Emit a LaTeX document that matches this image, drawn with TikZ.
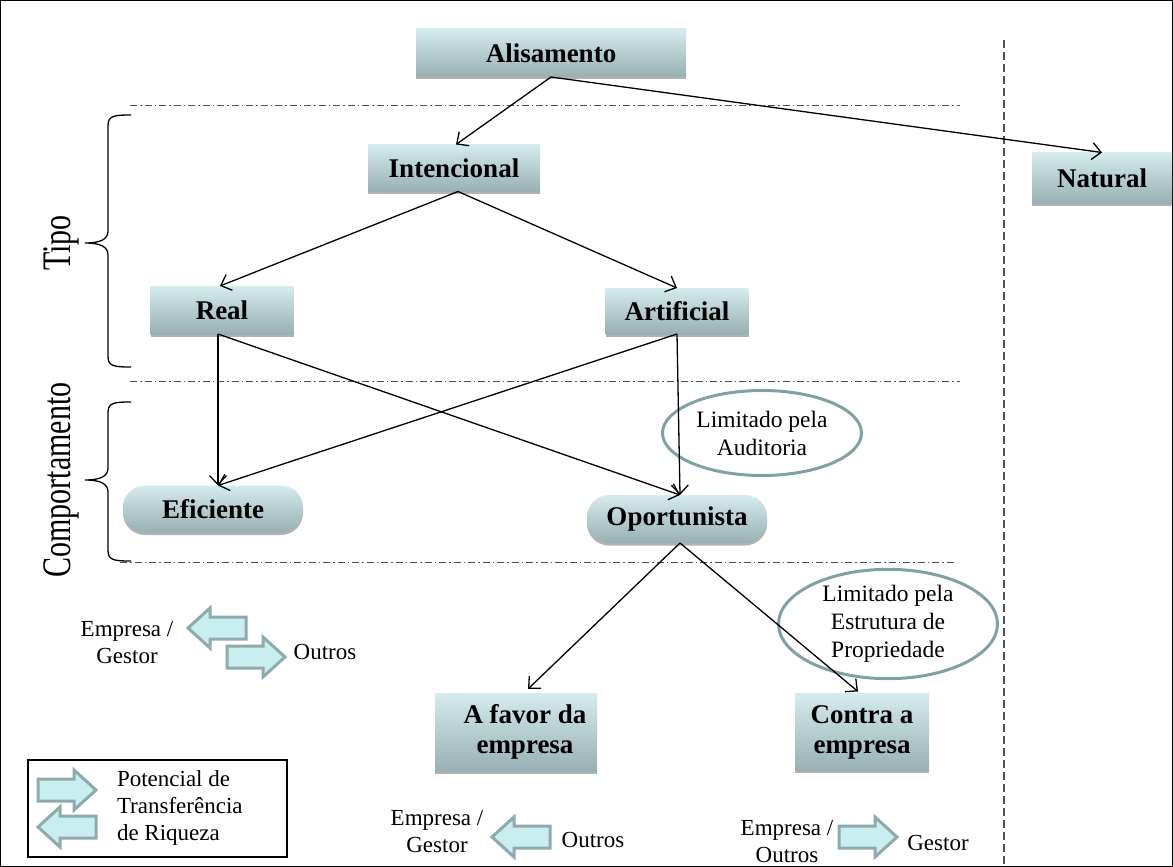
\documentclass[tikz,border=0pt]{standalone}
\usepackage{fontspec}
\setmainfont{Liberation Serif}
\usetikzlibrary{arrows.meta,shapes.geometric,shadows,calc}
\definecolor{boxtop}{HTML}{D5EBEE}
\definecolor{boxbot}{HTML}{98B0B3}
\definecolor{ringc}{HTML}{7FA1A3}
\definecolor{arrfill}{HTML}{C9EEF0}
\definecolor{arrdraw}{HTML}{8EAAAC}
\definecolor{sepc}{HTML}{505050}

\tikzset{
  every node/.style={inner sep=0pt, outer sep=0pt},
  plain/.style={font=\fontsize{23}{27}\selectfont, align=center},
  boxnode/.style={top color=boxtop, bottom color=boxbot,
    drop shadow={shadow xshift=0pt, shadow yshift=-2.5pt, fill=gray!60, opacity=1},
    font=\fontsize{27}{30}\selectfont\bfseries, align=center},
  pill/.style={boxnode, rounded corners=22pt},
  ring/.style={ellipse, draw=ringc, line width=3pt, font=\fontsize{23.5}{28}\selectfont, align=center},
  link/.style={-{Straight Barb[length=9pt,width=17pt]}, line width=1.3pt},
  sepline/.style={draw=sepc, line width=1pt, dash pattern=on 7pt off 3pt on 1.5pt off 3pt},
  bracket/.style={line width=1.3pt},
  sidelbl/.style={font=\fontsize{30}{30}\selectfont, rotate=90, yscale=1.35},
  xferline/.style={draw=arrdraw, fill=arrfill, line width=3pt, line join=miter},
  rarrow/.pic={\path[xferline] (-29,-11) -- (7,-11) -- (7,-20) -- (29,0) -- (7,20) -- (7,11) -- (-29,11) -- cycle;},
  larrow/.pic={\path[xferline] (29,-11) -- (-7,-11) -- (-7,-20) -- (-29,0) -- (-7,20) -- (-7,11) -- (29,11) -- cycle;}
}

\begin{document}
\begin{tikzpicture}[x=1pt,y=-1pt]
\useasboundingbox (0,0) rectangle (1173,867);
\draw[line width=1pt] (0.5,0.5) rectangle (1172.5,866.5);

% separators between the levels
\draw[sepline] (130,105) -- (960,105);
\draw[sepline] (130,381) -- (960,381);
\draw[sepline] (120,562) -- (955,562);
\draw[draw=sepc, line width=1.2pt, dash pattern=on 8pt off 4pt] (1004,40) -- (1004,867);

% main nodes
\node[boxnode, minimum width=270, minimum height=48] (alis) at (551,53) {Alisamento};
\node[boxnode, minimum width=172, minimum height=47] (inte) at (454,168) {Intencional};
\node[boxnode, minimum width=140, minimum height=51] (natu) at (1102,178) {Natural};
\node[boxnode, minimum width=143, minimum height=48] (real) at (222,310) {Real};
\node[boxnode, minimum width=143, minimum height=46] (arti) at (677,311) {Artificial};
\node[pill, minimum width=180, minimum height=47] (efic) at (213,509) {Eficiente};
\node[pill, minimum width=180, minimum height=48] (opor) at (677,519) {Oportunista};
\node[boxnode, minimum width=162, minimum height=78] (afav) at (516,732) {\hspace*{18pt}A favor da\\\hspace*{18pt}empresa};
\node[boxnode, minimum width=134, minimum height=77] (cont) at (862,732) {Contra a\\empresa};

% limiting factors
\node[ring, minimum width=199, minimum height=85] (aud) at (762,433) {Limitado pela\\Auditoria};
\node[ring, minimum width=219, minimum height=103] (prop) at (888,624) {Limitado pela\\Estrutura de\\Propriedade};

% connectors
\draw[link] (alis.south) -- ([xshift=2pt]inte.north);
\draw[link] (alis.south) -- (natu.north);
\draw[link] ([xshift=4pt]inte.south) -- ([xshift=-2pt]real.north);
\draw[link] ([xshift=4pt]inte.south) -- (arti.north);
\draw[link] ([xshift=-4pt]real.south) -- ([xshift=5pt]efic.north);
\draw[link] ([xshift=-4pt]real.south) -- ([xshift=3pt]opor.north);
\draw[link] (arti.south) -- ([xshift=3pt]opor.north);
\draw[link] (arti.south) -- ([xshift=5pt]efic.north);
\draw[link] ([xshift=3pt]opor.south) -- ([xshift=12pt,yshift=4pt]afav.north);
\draw[link] ([xshift=3pt]opor.south) -- ([xshift=-4pt,yshift=2pt]cont.north);

% level brackets
\draw[bracket] (131,115) .. controls (113,115) and (108,116) .. (108,126)
  -- (108,231) .. controls (108,239) and (101,243) .. (85,243)
  .. controls (101,243) and (108,247) .. (108,255)
  -- (108,356) .. controls (108,366) and (113,367) .. (131,367);
\draw[bracket] (131,402) .. controls (113,402) and (108,403) .. (108,413)
  -- (108,468) .. controls (108,476) and (101,480) .. (85,480)
  .. controls (101,480) and (108,484) .. (108,492)
  -- (108,550) .. controls (108,560) and (113,561) .. (131,561);
\node[sidelbl] (tipo) at (61,243) {Tipo};
\node[sidelbl] (comp) at (61,480) {Comportamento};

% wealth transfer marks
\node[plain] (g1a) at (127,643) {Empresa /\\Gestor};
\pic at (217,628) {larrow};
\pic at (256,657) {rarrow};
\node[plain] (g1b) at (325,652) {Outros};

\node[plain] (g2a) at (437,832) {Empresa /\\Gestor};
\pic at (521,837) {larrow};
\node[plain] (g2b) at (593,840) {Outros};

\node[plain] (g3a) at (787,842) {Empresa /\\Outros};
\pic at (868,837) {rarrow};
\node[plain] (g3b) at (938,843) {Gestor};

% key
\draw[line width=2.5pt] (28,760) rectangle (287,857);
\pic at (67,790) {rarrow};
\pic at (67,827) {larrow};
\node[plain, align=left, anchor=west] (key) at (117,808) {Potencial de\\Transferência\\de Riqueza};
\end{tikzpicture}
\end{document}
